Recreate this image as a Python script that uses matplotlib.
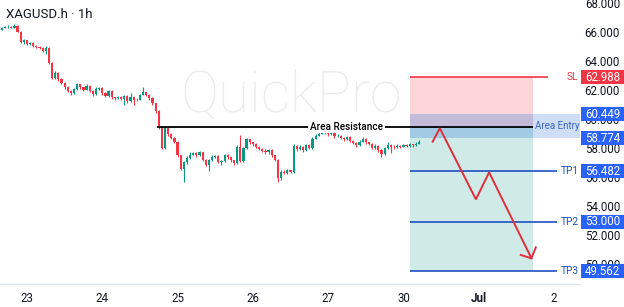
import numpy as np
import matplotlib
matplotlib.use("Agg")
import matplotlib.pyplot as plt
import matplotlib.transforms as mtransforms
from matplotlib.patches import Rectangle

plt.rcParams['font.family'] = ['Roboto', 'DejaVu Sans']

# hourly candles (open = previous close)
first_open = 66.30
closes = [66.40, 66.48, 66.50, 66.44, 66.58, 66.15, 65.45, 65.55, 65.30, 65.38,
          65.15, 65.10, 65.02, 64.80, 65.05, 64.00, 62.95, 63.30, 62.85, 62.60,
          62.30, 62.05, 61.90, 62.20, 62.50, 62.30, 62.15, 62.40, 62.05, 61.85,
          62.20, 62.25, 61.90, 61.70, 62.05, 61.60, 61.55, 61.65, 61.50, 61.70,
          61.35, 61.60, 61.40, 61.45, 61.80, 61.95, 61.80, 61.55, 61.20, 60.65,
          59.55, 58.10, 59.50, 59.10, 58.80, 58.55, 57.60, 56.65, 57.10, 57.40,
          57.65, 57.75, 57.60, 57.80, 57.30, 56.95, 57.25, 57.50, 57.55, 57.15,
          57.20, 57.60, 57.45, 57.25, 57.05, 58.15, 57.20, 58.10, 58.70, 58.50,
          58.35, 58.20, 58.05, 57.90, 57.80, 57.95, 57.60, 57.30, 56.00, 56.45,
          56.40, 56.55, 56.45, 58.25, 58.00, 58.20, 57.95, 58.30, 58.10, 58.75,
          58.95, 59.10, 59.40, 59.20, 59.05, 59.15, 58.90, 58.95, 58.80, 58.70,
          58.85, 58.60, 58.45, 58.30, 58.55, 58.75, 58.50, 58.40, 58.10, 58.25,
          57.95, 57.70, 58.10, 58.30, 58.20, 58.15, 58.25, 58.20, 58.30, 58.25,
          58.35, 58.30, 58.40, 58.55]
highs = [66.45, 66.55, 66.60, 66.55, 66.70, 66.62, 66.20, 65.65, 65.60, 65.45,
         65.42, 65.20, 65.15, 65.08, 65.15, 65.10, 64.05, 63.40, 63.35, 62.95,
         62.65, 62.40, 62.10, 62.25, 62.60, 62.55, 62.35, 62.50, 62.45, 62.10,
         62.30, 62.35, 62.30, 61.95, 62.10, 62.10, 61.65, 61.70, 61.70, 61.80,
         61.75, 61.90, 61.65, 61.55, 61.85, 62.35, 62.00, 61.85, 61.60, 61.25,
         60.70, 59.60, 59.60, 59.55, 59.15, 58.85, 58.60, 57.65, 57.20, 57.55,
         57.80, 57.85, 57.80, 57.90, 57.85, 57.35, 57.35, 57.60, 57.65, 57.60,
         57.30, 57.70, 57.70, 57.50, 57.30, 58.30, 59.00, 58.20, 58.80, 58.75,
         58.55, 58.45, 58.25, 58.10, 58.00, 58.05, 58.00, 57.65, 57.35, 56.55,
         56.55, 56.65, 56.60, 58.35, 58.30, 58.30, 58.25, 58.40, 58.35, 58.85,
         59.05, 59.20, 59.50, 59.45, 59.25, 59.25, 59.20, 59.05, 59.00, 58.85,
         58.95, 58.90, 58.65, 58.50, 58.65, 58.85, 58.80, 58.55, 58.45, 58.35,
         58.30, 58.00, 58.20, 58.55, 58.35, 58.30, 58.35, 58.30, 58.40, 58.35,
         58.45, 58.40, 58.50, 58.65]
lows = [66.28, 66.38, 66.42, 66.38, 66.40, 66.10, 65.35, 65.30, 65.22, 65.25,
        65.08, 65.02, 64.95, 64.72, 64.60, 63.90, 62.85, 62.90, 62.75, 62.50,
        62.20, 61.95, 61.80, 61.85, 62.15, 62.20, 62.05, 62.10, 61.95, 61.70,
        61.80, 62.10, 61.80, 61.60, 61.65, 61.50, 61.45, 61.50, 61.40, 61.05,
        61.25, 61.30, 61.05, 61.35, 61.40, 61.75, 61.70, 61.45, 61.10, 60.55,
        59.45, 58.05, 58.05, 58.95, 58.70, 58.45, 57.50, 56.55, 55.75, 57.00,
        57.35, 57.60, 57.45, 57.55, 57.20, 56.85, 56.50, 57.20, 57.40, 57.05,
        56.90, 57.15, 57.35, 57.15, 56.95, 57.00, 57.10, 57.10, 58.05, 58.40,
        58.25, 58.10, 57.95, 57.80, 57.70, 57.70, 57.50, 57.20, 55.75, 55.90,
        56.30, 56.30, 56.35, 56.40, 57.90, 57.95, 57.85, 57.90, 58.00, 58.05,
        58.70, 58.90, 59.05, 59.10, 58.95, 59.00, 58.80, 58.85, 58.70, 58.60,
        58.65, 58.50, 58.35, 58.20, 58.25, 58.50, 58.40, 58.30, 58.00, 58.05,
        57.85, 57.50, 57.65, 58.05, 57.75, 58.05, 58.10, 58.10, 58.15, 58.15,
        58.20, 58.20, 58.25, 58.35]

day_labels = ['23', '24', '25', '26', '27', '30', 'Jul', '2']
price_ticks = [68, 66, 64, 62, 60, 58, 56, 54, 52, 50]

resistance = 59.58
sl = 62.988
entry_top = 60.449
entry_bottom = 58.774
tps = [('TP1', 56.482), ('TP2', 53.000), ('TP3', 49.562)]

# projected path (hour, price)
path_x = [129.3, 131.6, 143.1, 147.3, 160.8]
path_y = [58.54, 59.47, 54.55, 56.42, 50.47]
head_x = [162.2, 160.8, 157.4]
head_y = [51.23, 50.47, 50.70]

UP = '#089981'
DOWN = '#f23645'
BLUE = '#2962ff'
LINE_BLUE = '#1e4fc4'
TXT = '#131722'

fig = plt.figure(figsize=(6.24, 3.07), dpi=100)
ax = fig.add_axes([0, 23 / 307, 1, 284 / 307])
ax.set_xlim(-8.6, 190.3)
ax.set_ylim(48.69, 68.346)
for s in ax.spines.values():
    s.set_visible(False)
ax.set_yticks([])

# watermark
ax.text(0.467, 0.66, 'QuickPro', transform=ax.transAxes, fontsize=41,
        fontweight='light', color='#ececec', ha='center', va='center', zorder=0)

# candles
opens = [first_open] + closes[:-1]
hours = np.arange(len(closes)) - 8
for h, o, hi, lo, c in zip(hours, opens, highs, lows, closes):
    col = UP if c >= o else DOWN
    ax.vlines(h, lo, hi, color=col, lw=0.8, zorder=3)
    ax.bar(h, max(abs(c - o), 0.03), bottom=min(o, c), width=0.7,
           color=col, lw=0, zorder=3)

# position boxes
x0, x1 = 122.1, 161.3
ax.add_patch(Rectangle((x0, resistance), x1 - x0, sl - resistance,
                       facecolor=DOWN, alpha=0.2, lw=0, zorder=1))
ax.add_patch(Rectangle((x0, tps[-1][1]), x1 - x0, resistance - tps[-1][1],
                       facecolor=UP, alpha=0.19, lw=0, zorder=1))
ax.add_patch(Rectangle((x0, entry_bottom), x1 - x0, entry_top - entry_bottom,
                       facecolor='#3d7fdc', alpha=0.3, lw=0, zorder=2))

# resistance line
ax.hlines(resistance, 41.4, x1, color='black', lw=1.3, zorder=4)
ax.text(101.8, resistance, 'Area Resistance', fontsize=7.2, fontweight='medium',
        color='black', ha='center', va='center', zorder=5,
        bbox=dict(facecolor='white', edgecolor='none', pad=1.2))

bt = mtransforms.blended_transform_factory(ax.transAxes, ax.transData)

# price scale
for p in price_ticks:
    ax.text(620 / 624, p, f'{p:.3f}', transform=bt, fontsize=8.3, color=TXT,
            ha='right', va='center', zorder=6)

def price_box(price, color):
    ax.add_patch(Rectangle((581 / 624, price - 0.48), 43 / 624, 0.96,
                           transform=bt, facecolor=color, lw=0, zorder=8,
                           clip_on=False))
    ax.text(602.5 / 624, price, f'{price:.3f}', transform=bt, fontsize=8.3,
            color='white', ha='center', va='center', zorder=9)

# entry label
ax.add_patch(Rectangle((533 / 624, entry_bottom), 47 / 624, entry_top - entry_bottom,
                       transform=bt, facecolor='#3d7fdc', alpha=0.25, lw=0, zorder=7))
ax.text(557 / 624, (entry_top + entry_bottom) / 2 + 0.03, 'Area Entry', transform=bt,
        fontsize=7, color='#3d68c0', ha='center', va='center', zorder=8)
price_box(entry_top, BLUE)
price_box(entry_bottom, BLUE)

# stop loss
ax.hlines(sl, x0, 166.2, color=DOWN, lw=1.2, zorder=4)
ax.text(572 / 624, sl, 'SL', transform=bt, fontsize=7.3, color=DOWN,
        ha='center', va='center')
price_box(sl, DOWN)

# targets
for name, p in tps:
    ax.hlines(p, x0, 169.1, color=LINE_BLUE, lw=1.2, zorder=4)
    ax.text(570 / 624, p, name, transform=bt, fontsize=7.3, color=LINE_BLUE,
            ha='center', va='center')
    price_box(p, BLUE)

# projected move
ax.plot(path_x, path_y, color='#e02f3c', lw=1.4, zorder=6, solid_joinstyle='miter')
ax.plot(head_x, head_y, color='#e02f3c', lw=1.4, zorder=6)

# time axis
ax.axhline(48.69, xmin=0, xmax=580 / 624, color='#e0e3eb', lw=1, clip_on=False)
ax.set_xticks(np.arange(len(day_labels)) * 24)
ax.set_xticklabels(day_labels, fontsize=8.3, color=TXT)
ax.get_xticklabels()[6].set_fontweight('bold')
ax.tick_params(axis='x', length=0, pad=5.5)

fig.text(6 / 624, 1 - 14 / 307, 'XAGUSD.h · 1h', fontsize=9.5, color=TXT,
         ha='left', va='center')

fig.savefig('out.png', dpi=100)
